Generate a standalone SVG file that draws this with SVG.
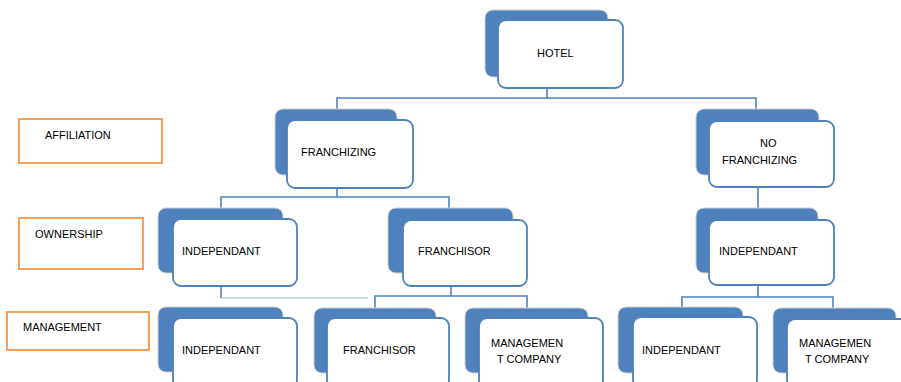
<svg xmlns="http://www.w3.org/2000/svg" width="901" height="382" viewBox="0 0 901 382">
<style>
.bk{fill:#4F81BD;stroke:#D0D0D0;stroke-width:1}
.fr{fill:#fff;stroke:#4F81BD;stroke-width:1.8}
.lb{fill:#fff;stroke:#F79646;stroke-width:1.8}
.t{font-family:"Liberation Sans",Arial,sans-serif;font-size:11px;fill:#000}
.c{fill:none;stroke:#4F81BD;stroke-width:1.6}
.cl{fill:none;stroke:#95B3D7;stroke-width:1.2}
</style>
<g id="connectors">
<path class="c" d="M547 88V98M337 109V98H756V109"/>
<path class="c" d="M337 188V197M221 208V197H449V208"/>
<path class="c" d="M758 187V208"/>
<path class="c" d="M221 286V298"/>
<path class="cl" d="M221 298H368"/>
<path class="c" d="M451 286V296M375 308V296H527V308"/>
<path class="c" d="M758 285V297M682 307V297H833V308"/>
</g>
<g id="label-affiliation"><rect class="lb" x="19" y="119" width="143" height="44"/><text class="t" x="45" y="139">AFFILIATION</text></g>
<g id="label-ownership"><rect class="lb" x="19" y="218" width="124" height="51"/><text class="t" x="35" y="238">OWNERSHIP</text></g>
<g id="label-management"><rect class="lb" x="7" y="312" width="142" height="38"/><text class="t" x="23" y="331">MANAGEMENT</text></g>
<g id="hotel"><rect class="bk" x="485" y="10" width="123" height="67" rx="8"/><rect class="fr" x="498" y="20" width="125" height="68" rx="8"/><text class="t" x="537" y="57">HOTEL</text></g>
<g id="franchizing"><rect class="bk" x="275" y="109" width="122" height="66" rx="8"/><rect class="fr" x="287" y="120" width="126" height="68" rx="8"/><text class="t" x="301" y="156">FRANCHIZING</text></g>
<g id="no-franchizing"><rect class="bk" x="696" y="109" width="123" height="66" rx="8"/><rect class="fr" x="709" y="121" width="125" height="66" rx="8"/><text class="t" x="760" y="147">NO</text><text class="t" x="722" y="164">FRANCHIZING</text></g>
<g id="own-independant-left"><rect class="bk" x="158" y="208" width="125" height="65" rx="8"/><rect class="fr" x="173" y="219" width="124" height="67" rx="8"/><text class="t" x="182" y="255">INDEPENDANT</text></g>
<g id="own-franchisor"><rect class="bk" x="388" y="208" width="125" height="65" rx="8"/><rect class="fr" x="403" y="220" width="124" height="66" rx="8"/><text class="t" x="418" y="255">FRANCHISOR</text></g>
<g id="own-independant-right"><rect class="bk" x="696" y="208" width="122" height="65" rx="8"/><rect class="fr" x="709" y="220" width="125" height="65" rx="8"/><text class="t" x="719" y="255">INDEPENDANT</text></g>
<g id="mgmt-independant-left"><rect class="bk" x="158" y="307" width="125" height="65" rx="8"/><rect class="fr" x="173" y="318" width="124" height="70" rx="8"/><text class="t" x="182" y="354">INDEPENDANT</text></g>
<g id="mgmt-franchisor"><rect class="bk" x="314" y="308" width="122" height="65" rx="8"/><rect class="fr" x="327" y="318" width="122" height="70" rx="8"/><text class="t" x="343" y="354">FRANCHISOR</text></g>
<g id="mgmt-company-mid"><rect class="bk" x="465" y="308" width="123" height="65" rx="8"/><rect class="fr" x="479" y="318" width="124" height="70" rx="8"/><text class="t" x="491" y="347">MANAGEMEN</text><text class="t" x="497" y="363">T COMPANY</text></g>
<g id="mgmt-independant-right"><rect class="bk" x="618" y="307" width="125" height="66" rx="8"/><rect class="fr" x="633" y="317" width="124" height="71" rx="8"/><text class="t" x="642" y="354">INDEPENDANT</text></g>
<g id="mgmt-company-right"><rect class="bk" x="773" y="308" width="123" height="65" rx="8"/><rect class="fr" x="787" y="319" width="124" height="69" rx="8"/><text class="t" x="799" y="347">MANAGEMEN</text><text class="t" x="805" y="363">T COMPANY</text></g>
</svg>
